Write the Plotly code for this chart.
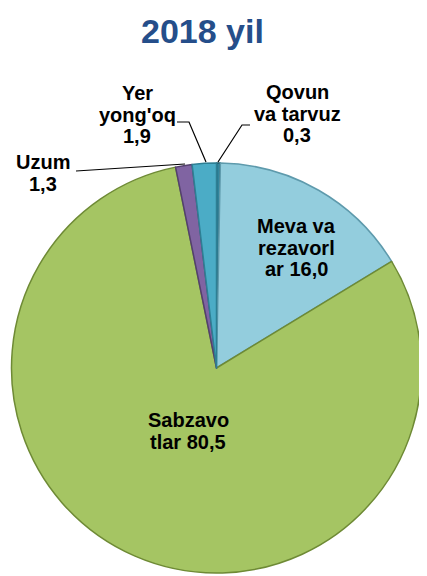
import plotly.graph_objects as go

# ---- data ----
categories = ["Qovun va tarvuz", "Meva va rezavorlar", "Sabzavotlar", "Uzum", "Yer yong'oq"]
values = [0.3, 16.0, 80.5, 1.3, 1.9]
# label text as broken in the reference
label_lines = [
    ["Qovun", "va tarvuz"],
    ["Meva va", "rezavorl", "ar"],
    ["Sabzavo", "tlar"],
    ["Uzum"],
    ["Yer", "yong'oq"],
]
title_text = "2018 yil"

colors = ["#31859C", "#93CDDD", "#A5C563", "#8064A2", "#4BACC6"]
edge_colors = ["#1F5A6A", "#5E9AAC", "#6E8A35", "#54406E", "#2E7F94"]

# page body has an 8px margin; figure fills the rest of the window
OFF = 8
W, H = 427 - OFF, 576 - OFF


def px(x):
    return (x - OFF) / W


def py(y):
    return 1 - (y - OFF) / H


fig = go.Figure()
fig.add_trace(go.Pie(
    labels=categories,
    values=values,
    sort=False,
    direction="clockwise",
    rotation=0,
    textinfo="none",
    hoverinfo="label+value",
    marker=dict(colors=colors, line=dict(color=edge_colors, width=1.5)),
    domain=dict(x=[px(8), px(425)], y=[py(573), py(163)]),
    showlegend=False,
))


def fmt(v):
    return f"{v:.1f}".replace(".", ",")


# label layout: (center x, first baseline y) in pixels
label_pos = [(297, 99), (296, 233), (188, 427), (43, 169), (137, 100)]
line_step = 21.5
fs = 20
annotations = []
for lines, v, (cx, by) in zip(label_lines, values, label_pos):
    txt_lines = list(lines)
    if len(txt_lines) and txt_lines[-1] in ("ar", "tlar"):
        txt_lines[-1] = txt_lines[-1] + " " + fmt(v)
    else:
        txt_lines.append(fmt(v))
    for i, t in enumerate(txt_lines):
        base = by + i * line_step
        annotations.append(dict(
            x=px(cx), y=py(base - 6.8), xref="paper", yref="paper",
            xanchor="center", yanchor="middle", showarrow=False,
            text=f"<b>{t}</b>",
            font=dict(family="Liberation Sans, Arial, sans-serif", size=fs, color="#000000"),
        ))

annotations.append(dict(
    x=px(202), y=py(31), xref="paper", yref="paper",
    xanchor="center", yanchor="middle", showarrow=False,
    text=f"<b>{title_text}</b>",
    font=dict(family="Liberation Sans, Arial, sans-serif", size=34, color="#254E8A"),
))

# leader lines (pixel paths)
leaders = [
    [(250, 125), (242, 125), (218, 162)],
    [(177, 122), (189, 122), (206, 162)],
    [(76, 171), (185, 164)],
]
shapes = []
for pts in leaders:
    path = "M " + " L ".join(f"{px(x)},{py(y)}" for x, y in pts)
    shapes.append(dict(type="path", xref="paper", yref="paper", path=path,
                       line=dict(color="#000000", width=1.2)))

fig.update_layout(
    width=W, height=H,
    margin=dict(l=0, r=0, t=0, b=0),
    paper_bgcolor="white", plot_bgcolor="white",
    annotations=annotations,
    shapes=shapes,
)

fig.write_html("out.html")
